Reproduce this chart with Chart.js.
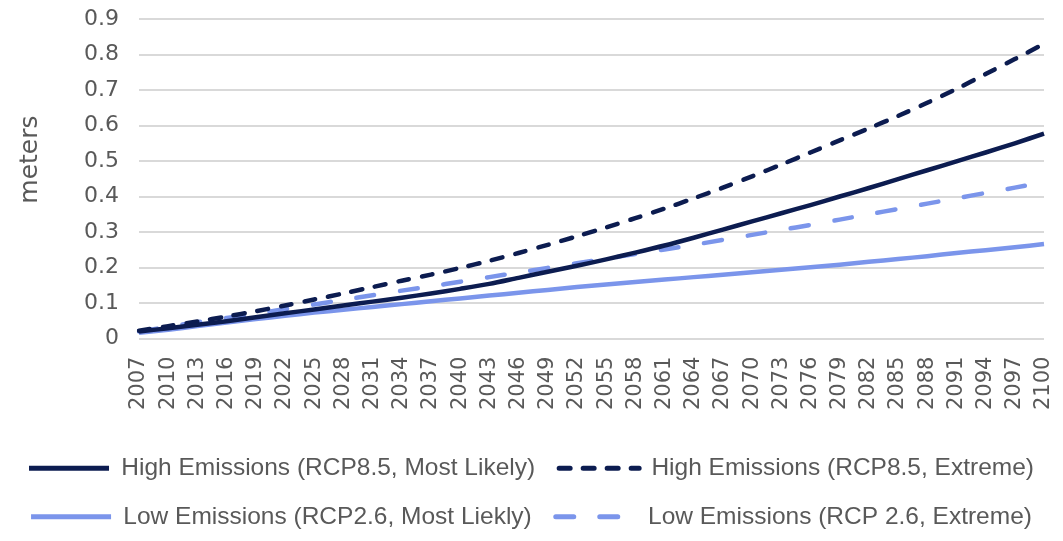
<!DOCTYPE html>
<html>
<head>
<meta charset="utf-8">
<script src="https://cdn.jsdelivr.net/npm/chart.js@4.4.1/dist/chart.umd.min.js"></script>
<style>
  html, body { margin: 0; padding: 0; background: #ffffff; }
  #wrap { width: 1063px; height: 541px; }
</style>
</head>
<body>
<div id="wrap"><canvas id="chart" width="1063" height="541"></canvas></div>
<script>
const years = ['2007', '2010', '2013', '2016', '2019', '2022', '2025', '2028', '2031', '2034', '2037',
    '2040', '2043', '2046', '2049', '2052', '2055', '2058', '2061', '2064', '2067', '2070', '2073',
    '2076', '2079', '2082', '2085', '2088', '2091', '2094', '2097', '2100'];

const highMostLikely = [0.020, 0.029, 0.039, 0.049, 0.060, 0.071, 0.082, 0.093, 0.104, 0.115, 0.127,
    0.140, 0.154, 0.171, 0.188, 0.205, 0.223, 0.242, 0.262, 0.284, 0.307, 0.330, 0.353,
    0.376, 0.400, 0.424, 0.449, 0.474, 0.499, 0.524, 0.550, 0.577];

const highExtreme = [0.022, 0.035, 0.048, 0.062, 0.077, 0.093, 0.110, 0.127, 0.145, 0.163, 0.180,
    0.199, 0.219, 0.241, 0.264, 0.288, 0.313, 0.339, 0.366, 0.395, 0.425, 0.457, 0.490,
    0.524, 0.558, 0.592, 0.627, 0.664, 0.703, 0.745, 0.787, 0.830];

const lowMostLikely = [0.016, 0.025, 0.035, 0.045, 0.055, 0.064, 0.073, 0.081, 0.089, 0.097, 0.105,
    0.113, 0.121, 0.129, 0.137, 0.145, 0.152, 0.159, 0.166, 0.173, 0.180, 0.187, 0.194,
    0.201, 0.208, 0.216, 0.224, 0.232, 0.241, 0.249, 0.257, 0.266];

const lowExtreme = [0.020, 0.033, 0.046, 0.058, 0.070, 0.083, 0.096, 0.109, 0.122, 0.135, 0.147,
    0.160, 0.173, 0.186, 0.199, 0.212, 0.225, 0.238, 0.251, 0.264, 0.278, 0.292, 0.306,
    0.320, 0.335, 0.350, 0.365, 0.380, 0.395, 0.410, 0.425, 0.440];

const yTicks = [0, 0.1, 0.2, 0.3, 0.4, 0.5, 0.6, 0.7, 0.8, 0.9];

const dark = '#0c1c50';
const light = '#7b95eb';
const textColor = '#595959';

// y title sits a bit above the middle of the axis, like the original
const yTitle = {
    id: 'yTitle',
    afterDraw(chart) {
        const c = chart.ctx;
        const area = chart.chartArea;
        c.save();
        c.translate(30, area.top + (area.bottom - area.top) * 0.44);
        c.rotate(-Math.PI / 2);
        c.fillStyle = textColor;
        c.font = '25px "DejaVu Sans"';
        c.textAlign = 'center';
        c.textBaseline = 'middle';
        c.fillText('meters', 0, 0);
        c.restore();
    }
};

const ctx = document.getElementById('chart');

new Chart(ctx, {
    type: 'line',
    data: {
        labels: years,
        datasets: [
            {
                label: 'High Emissions (RCP8.5, Most Likely)',
                data: highMostLikely,
                borderColor: dark,
                backgroundColor: dark,
                borderWidth: 4.5,
            },
            {
                label: 'High Emissions (RCP8.5, Extreme)',
                data: highExtreme,
                borderColor: dark,
                backgroundColor: dark,
                borderWidth: 4.5,
                borderDash: [11, 13],
                borderCapStyle: 'round',
            },
            {
                label: 'Low Emissions (RCP2.6, Most Liekly)',
                data: lowMostLikely,
                borderColor: light,
                backgroundColor: light,
                borderWidth: 4.5,
            },
            {
                label: 'Low Emissions (RCP 2.6, Extreme)',
                data: lowExtreme,
                borderColor: light,
                backgroundColor: light,
                borderWidth: 4.5,
                borderDash: [18, 26],
                borderCapStyle: 'round',
            }
        ]
    },
    options: {
        responsive: false,
        animation: false,
        devicePixelRatio: 1,
        elements: {
            point: { radius: 0 },
            line: { tension: 0.3 }
        },
        layout: {
            padding: { left: 0, right: 0, top: 0, bottom: 2 }
        },
        plugins: {
            tooltip: { enabled: false },
            legend: {
                position: 'bottom',
                labels: {
                    usePointStyle: true,
                    pointStyle: 'line',
                    pointStyleWidth: 80,
                    boxWidth: 80,
                    boxHeight: 4,
                    padding: 24,
                    color: textColor,
                    font: { family: 'Liberation Sans', size: 24.5 },
                    generateLabels: function(chart) {
                        const items = Chart.defaults.plugins.legend.labels.generateLabels(chart);
                        items.forEach(function(item, i) {
                            const ds = chart.data.datasets[i];
                            item.lineDash = ds.borderDash || [];
                            item.lineCap = ds.borderCapStyle || 'butt';
                            item.lineWidth = 5;
                            item.strokeStyle = ds.borderColor;
                            item.pointStyle = 'line';
                        });
                        return items;
                    }
                }
            }
        },
        scales: {
            x: {
                grid: { display: false },
                border: { display: false },
                afterFit: function(axis) {
                    axis.height = axis.height + 12;
                    axis.paddingLeft = 0;
                    axis.paddingRight = 19;
                },
                ticks: {
                    autoSkip: false,
                    maxRotation: 90,
                    minRotation: 90,
                    color: textColor,
                    padding: 10,
                    font: { family: 'DejaVu Sans', size: 21 }
                }
            },
            y: {
                min: 0,
                max: 0.9,
                afterBuildTicks: function(axis) {
                    axis.ticks = yTicks.map(v => ({ value: v }));
                },
                afterFit: function(axis) {
                    axis.width = 139;
                    axis.paddingTop = 19;
                    axis.paddingBottom = 0;
                },
                grid: {
                    color: '#d9d9d9',
                    lineWidth: 2,
                    drawTicks: false
                },
                border: { display: false },
                ticks: {
                    color: textColor,
                    padding: 20,
                    font: { family: 'DejaVu Sans', size: 22 },
                    callback: function(value) {
                        return value === 0 ? '0' : value.toFixed(1);
                    }
                }
            }
        }
    },
    plugins: [yTitle]
});
</script>
</body>
</html>
